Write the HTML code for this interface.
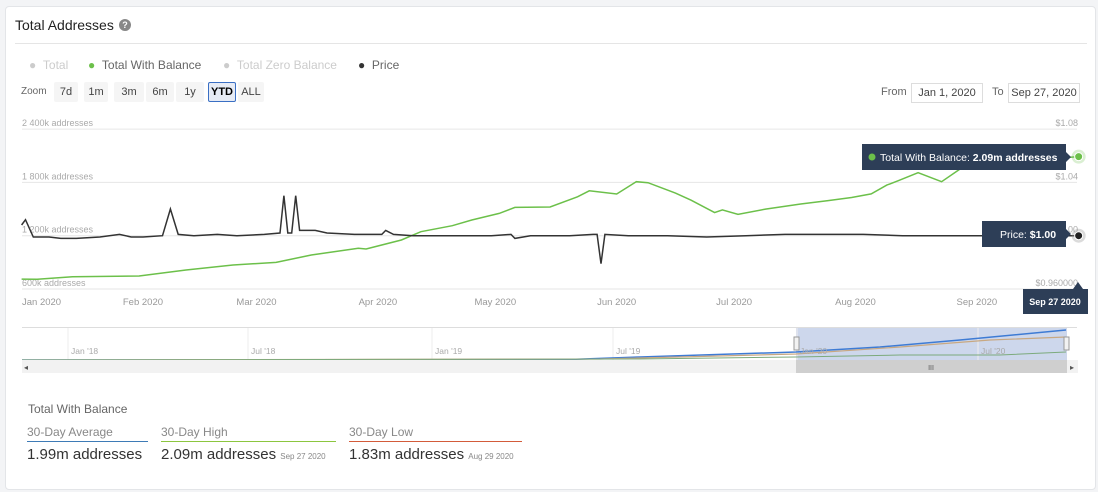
<!DOCTYPE html>
<html><head><meta charset="utf-8"><style>
body{margin:0;width:1098px;height:492px;background:#f3f4f6;font-family:"Liberation Sans",sans-serif;overflow:hidden;position:relative}
.card{position:absolute;left:5px;top:6px;width:1089px;height:482px;background:#fff;border:1px solid #e3e5e8;border-radius:4px}
.abs{position:absolute}
.btn{position:absolute;top:82px;height:20px;line-height:20px;font-size:11px;color:#444;background:#f5f5f5;text-align:center;border-radius:2px}
.box{position:absolute;top:83px;height:18px;border:1px solid #ddd;font-size:11px;color:#444;line-height:18px;text-align:center}
</style></head><body>
<div class="card"></div>
<div class="abs" style="left:15px;top:17px;font-size:14px;color:#222">Total Addresses</div>
<div class="abs" style="left:119px;top:19px;width:12px;height:12px;border-radius:50%;background:#888;color:#fff;font-size:9px;font-weight:bold;text-align:center;line-height:12px">?</div>
<div class="abs" style="left:15px;top:43px;width:1072px;height:1px;background:#e5e5e5"></div>

<div class="abs" style="left:29px;top:58px;font-size:12px;color:#ccc">● &nbsp;Total</div>
<div class="abs" style="left:88px;top:58px;font-size:12px;color:#666"><span style="color:#6cc04a">●</span> &nbsp;Total With Balance</div>
<div class="abs" style="left:223px;top:58px;font-size:12px;color:#ccc">● &nbsp;Total Zero Balance</div>
<div class="abs" style="left:358px;top:58px;font-size:12px;color:#666"><span style="color:#333">●</span> &nbsp;Price</div>

<div class="abs" style="left:21px;top:86px;font-size:10px;color:#666">Zoom</div>
<div class="btn" style="left:54px;width:24px">7d</div>
<div class="btn" style="left:84px;width:24px">1m</div>
<div class="btn" style="left:114px;width:30px">3m</div>
<div class="btn" style="left:146px;width:28px">6m</div>
<div class="btn" style="left:176px;width:28px">1y</div>
<div class="btn" style="left:208px;width:26px;height:18px;line-height:18px;border:1px solid #3a6fc4;background:#e6ebf5;font-weight:bold;color:#000">YTD</div>
<div class="btn" style="left:238px;width:26px">ALL</div>
<div class="abs" style="left:881px;top:86px;font-size:11px;color:#666">From</div>
<div class="box" style="left:911px;width:70px">Jan 1, 2020</div>
<div class="abs" style="left:992px;top:86px;font-size:11px;color:#666">To</div>
<div class="box" style="left:1008px;width:70px">Sep 27, 2020</div>

<svg class="abs" style="left:0;top:0" width="1098" height="492" id="chart"></svg>

<div class="abs" style="left:28px;top:402px;font-size:12px;color:#666">Total With Balance</div>
<div class="abs" style="left:27px;top:425px;width:121px;border-bottom:1px solid #3e7bb6;font-size:12px;color:#888;padding-bottom:2px">30-Day Average</div>
<div class="abs" style="left:161px;top:425px;width:175px;border-bottom:1px solid #8cc63f;font-size:12px;color:#888;padding-bottom:2px">30-Day High</div>
<div class="abs" style="left:349px;top:425px;width:173px;border-bottom:1px solid #d35b3a;font-size:12px;color:#888;padding-bottom:2px">30-Day Low</div>
<div class="abs" style="left:27px;top:446px;font-size:15px;color:#333">1.99m addresses</div>
<div class="abs" style="left:161px;top:446px;font-size:15px;color:#333">2.09m addresses <span style="font-size:8px;color:#888">Sep 27 2020</span></div>
<div class="abs" style="left:349px;top:446px;font-size:15px;color:#333">1.83m addresses <span style="font-size:8px;color:#888">Aug 29 2020</span></div>

<script>
const balanceDays=[0,4,13,30,42,54,65,74,86,88,97,102,110,115,122,126,135,142,145,152,157,160,167,171,177,179,183,190,199,206,212,217,221,224,229,235,240,246,252,258,264,270];
const balanceValues=[712,709,738,746,814,870,900,983,1058,1050,1152,1245,1313,1377,1451,1519,1523,1638,1706,1669,1808,1797,1680,1600,1460,1490,1440,1500,1557,1595,1630,1670,1770,1820,1909,1808,1960,2000,2030,2050,2070,2090];
const priceDays=[0,1,3,7,10,14,20,25,28,31,36,38,40,44,50,55,62,66,67,68,69,70,71,75,78,85,92,93,95,100,110,120,125,126,130,140,146,147,148,149,155,165,175,185,195,205,215,225,235,245,255,270];
const priceValues=[1.008,1.012,0.999,0.999,0.998,0.998,0.999,1.001,0.999,0.999,1.000,1.020,1.001,1.000,1.001,1.000,1.001,1.002,1.030,1.002,1.002,1.030,1.004,1.004,1.002,1.001,1.001,1.004,1.001,1.000,1.000,1.000,1.001,0.998,1.000,1.000,1.001,1.001,0.979,1.001,1.000,1.000,0.999,1.000,1.001,1.001,1.001,1.000,1.000,1.000,1.000,1.000];
const leftTicks=[600,1200,1800,2400];
const leftTickLabels=["600k addresses","1 200k addresses","1 800k addresses","2 400k addresses"];
const rightTicks=[0.96,1.00,1.04,1.08];
const rightTickLabels=["$0.960000","$1.00","$1.04","$1.08"];
const monthDays=[0,31,60,91,121,152,182,213,244];
const monthLabels=["Jan 2020","Feb 2020","Mar 2020","Apr 2020","May 2020","Jun 2020","Jul 2020","Aug 2020","Sep 2020"];
const navLabels=["Jan '18","Jul '18","Jan '19","Jul '19","Jan '20","Jul '20"];

const NS="http://www.w3.org/2000/svg";
const svg=document.getElementById('chart');
const X0=21.6,PXD=3.915,Y600=289,PX600=53.3;
const x=d=>X0+d*PXD;
const yL=v=>Y600-(v-600)/600*PX600;
const yR=v=>Y600-(v-0.96)/0.04*PX600;
function el(t,a,p){const e=document.createElementNS(NS,t);for(const k in a)e.setAttribute(k,a[k]);(p||svg).appendChild(e);return e;}
function txt(s,a){const e=el('text',a);e.textContent=s;return e;}

leftTicks.forEach((v,i)=>{
  const g=el('line',{x1:22,x2:1077,y1:yL(v),y2:yL(v),stroke:'#e6e6e6'});
  
  
  const t=txt(leftTickLabels[i],{x:22,y:yL(v)-3,'font-size':9,fill:'#aaa'});
  
  
});
rightTicks.forEach((v,i)=>{
  const t=txt(rightTickLabels[i],{x:1078,y:yR(v)-3,'font-size':9,fill:'#aaa','text-anchor':'end'});
  
  
});
monthDays.forEach((d,i)=>{
  const t=txt(monthLabels[i],{x:i==0?22:x(d),y:305,'font-size':9.5,fill:'#999','text-anchor':i==0?'start':'middle'});
  
  
});

const gp=el('path',{d:balanceDays.map((d,i)=>(i?'L':'M')+x(d).toFixed(1)+','+yL(balanceValues[i]).toFixed(1)).join(''),fill:'none',stroke:'#6cc04a','stroke-width':1.5});


const pp=el('path',{d:priceDays.map((d,i)=>(i?'L':'M')+x(d).toFixed(1)+','+yR(priceValues[i]).toFixed(1)).join(''),fill:'none',stroke:'#333','stroke-width':1.5});



const lastD=balanceDays[balanceDays.length-1],lastV=balanceValues[balanceValues.length-1],lastP=priceValues[priceValues.length-1];
el('circle',{cx:x(lastD),cy:yL(lastV),r:7,fill:'#6cc04a','fill-opacity':0.25});
const gd=el('circle',{cx:x(lastD),cy:yL(lastV),r:4,fill:'#6cc04a',stroke:'#fff'});


el('circle',{cx:x(lastD),cy:yR(lastP),r:7,fill:'#999','fill-opacity':0.35});
const pd=el('circle',{cx:x(lastD),cy:yR(lastP),r:4,fill:'#222',stroke:'#fff'});



const t1=el('g',{});


el('path',{d:'M862,144H1066V152L1071,157L1066,162V170H862Z',fill:'#2d3e57'},t1);
el('circle',{cx:872,cy:157,r:3.5,fill:'#6cc04a'},t1);
const tt1=el('text',{x:880,y:161,'font-size':10.5,fill:'#fff'},t1);tt1.innerHTML='Total With Balance: <tspan font-weight="bold">2.09m addresses</tspan>';
const t2=el('g',{});


el('path',{d:'M982,221H1066V229L1071,234L1066,239V247H982Z',fill:'#2d3e57'},t2);
const tt2=el('text',{x:1000,y:238,'font-size':10.5,fill:'#fff'},t2);tt2.innerHTML='Price: <tspan font-weight="bold">$1.00</tspan>';
const t3=el('g',{});


el('path',{d:'M1023,289H1073L1078,282L1083,289H1088V314H1023Z',fill:'#2d3e57'},t3);
txt('Sep 27 2020',{x:1055,y:305,'font-size':9,fill:'#fff','font-weight':'bold','text-anchor':'middle'});

const nav=el('g',{});


el('line',{x1:22,x2:1077,y1:327.5,y2:327.5,stroke:'#ddd'},nav);
el('rect',{x:796,y:328,width:271,height:32,fill:'#c8d3ea','fill-opacity':0.9},nav);
[68,248,432,613,797,978].forEach((px,i)=>{
  el('line',{x1:px,x2:px,y1:328,y2:360,stroke:'#eee'},nav);
  const t=txt(navLabels[i],{x:px+3,y:354,'font-size':8.5,fill:'#aaa'});
  
  
});
el('path',{d:'M22,360L555,360L640,357L796,352L880,347L960,340L1066,330',fill:'none',stroke:'#3e7bd4','stroke-width':1.5},nav);
el('path',{d:'M22,360L600,359L796,354L900,347L990,340L1066,337',fill:'none',stroke:'#c8a882','stroke-width':1.2},nav);
el('path',{d:'M22,360L640,359L796,357L900,355L1000,355L1066,352',fill:'none',stroke:'#7caa7c','stroke-width':1},nav);
el('rect',{x:794,y:337,width:5,height:13,fill:'#f2f2f2',stroke:'#999'},nav);
el('rect',{x:1064,y:337,width:5,height:13,fill:'#f2f2f2',stroke:'#999'},nav);
const sb=el('g',{});


el('rect',{x:22,y:360,width:1056,height:13,fill:'#f2f2f2'},sb);
el('rect',{x:796,y:360,width:271,height:13,fill:'#cfcfcf'},sb);
txt('III',{x:931,y:370,'font-size':7,fill:'#555','text-anchor':'middle'});
txt('◂',{x:24,y:370,'font-size':8,fill:'#555'});
txt('▸',{x:1070,y:370,'font-size':8,fill:'#555'});
</script>
</body></html>
